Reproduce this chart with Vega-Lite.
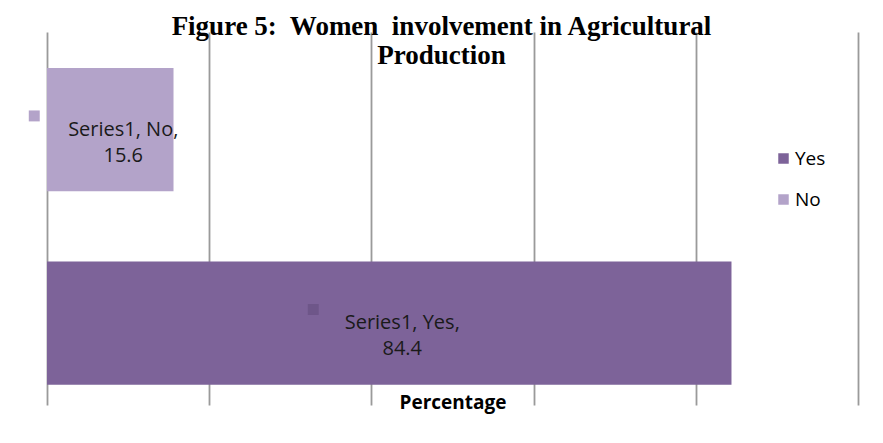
{
  "$schema": "https://vega.github.io/schema/vega-lite/v6.json",
  "autosize": "none",
  "width": 811,
  "height": 373,
  "padding": {"left": 47, "top": 32, "right": 25, "bottom": 38},
  "background": "white",
  "config": {"view": {"stroke": null}},
  "title": {
    "text": ["Figure 5:\u00a0 Women\u00a0 involvement in Agricultural", "Production"],
    "font": "Liberation Serif",
    "fontSize": 27,
    "fontWeight": "bold",
    "color": "#000000",
    "anchor": "middle",
    "baseline": "bottom",
    "lineHeight": 29,
    "offset": -65,
    "dx": -11
  },
  "data": {
    "values": [
      {"category": "No", "value": 15.6, "label": "Series1, No,\n15.6"},
      {"category": "Yes", "value": 84.4, "label": "Series1, Yes,\n84.4"}
    ]
  },
  "encoding": {
    "y": {
      "field": "category",
      "type": "nominal",
      "sort": ["No", "Yes"],
      "axis": null,
      "scale": {"paddingInner": 0.363, "paddingOuter": 0.145, "align": 0.64}
    }
  },
  "layer": [
    {
      "mark": {"type": "bar"},
      "encoding": {
        "x": {
          "field": "value",
          "type": "quantitative",
          "scale": {"domain": [0, 100], "nice": false},
          "axis": {
            "values": [0, 20, 40, 60, 80, 100],
            "labels": false,
            "ticks": false,
            "domain": false,
            "grid": true,
            "gridColor": "#9a9a9a",
            "gridWidth": 1.8,
            "title": "Percentage",
            "titleFont": "Open Sans",
            "titleFontSize": 19,
            "titleFontWeight": "bold",
            "titleColor": "#000000",
            "titleBaseline": "alphabetic",
            "titleY": 3
          }
        },
        "color": {
          "field": "category",
          "type": "nominal",
          "scale": {"domain": ["Yes", "No"], "range": ["#7d6399", "#b3a3c9"]},
          "legend": {
            "title": null,
            "orient": "none",
            "legendX": 727,
            "legendY": 117,
            "symbolType": "square",
            "symbolSize": 110,
            "symbolStrokeWidth": 0,
            "labelFont": "Open Sans",
            "labelFontSize": 19,
            "labelColor": "#000000",
            "labelOffset": 2,
            "rowPadding": 21
          }
        }
      }
    },
    {
      "mark": {"type": "point", "shape": "square", "filled": true, "size": 120, "opacity": 1},
      "encoding": {
        "x": {
          "field": "value",
          "type": "quantitative",
          "scale": {"domain": [0, 200], "nice": false},
          "axis": null
        },
        "xOffset": {"value": -76},
        "yOffset": {"value": 48},
        "color": {
          "condition": {"test": "datum.category === 'Yes'", "value": "#6e5689"},
          "value": "#b3a3c9"
        }
      }
    },
    {
      "mark": {
        "type": "text",
        "lineBreak": "\n",
        "font": "Open Sans",
        "fontSize": 20,
        "lineHeight": 26,
        "align": "center",
        "baseline": "middle",
        "color": "#1a1a1a",
        "dx": 13
      },
      "encoding": {
        "x": {
          "field": "value",
          "type": "quantitative",
          "scale": {"domain": [0, 200], "nice": false},
          "axis": null
        },
        "text": {"field": "label"}
      }
    }
  ],
  "resolve": {"scale": {"x": "independent"}}
}
